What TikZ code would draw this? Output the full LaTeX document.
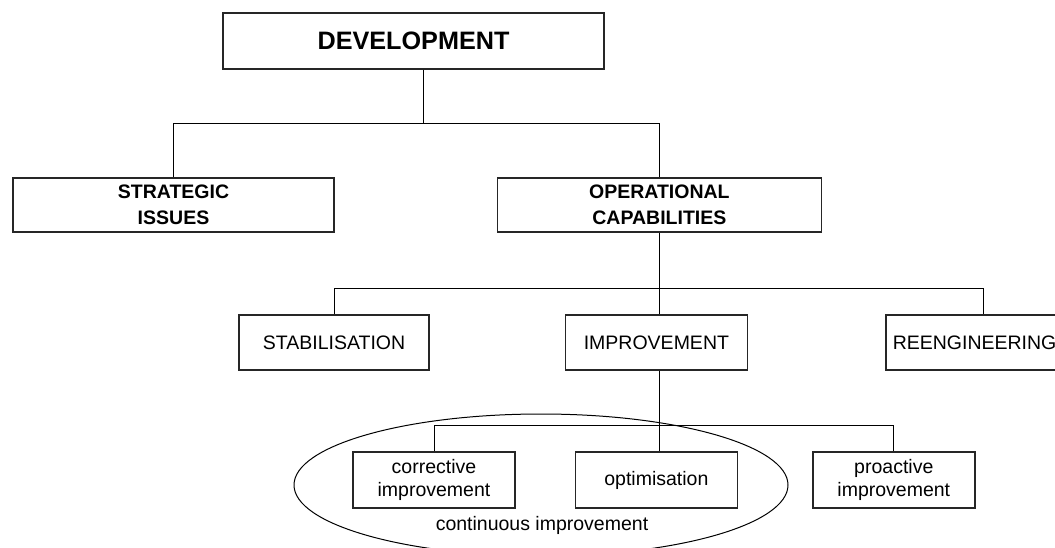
\documentclass[tikz,border=0pt]{standalone}
\usepackage{fontspec}
\setmainfont{Liberation Sans}
\usetikzlibrary{positioning,shapes.geometric}

\begin{document}
\begin{tikzpicture}[x=0.5pt, y=-0.5pt,
    block/.style={rectangle, draw=black!85, line width=0.7pt, inner sep=0pt, align=center, font=\fontsize{9.75}{12.5}\selectfont},
    headblock/.style={block, font=\fontsize{9.75}{13}\selectfont\bfseries, minimum width=160.5pt, minimum height=27pt},
    midblock/.style={block, minimum height=27.5pt},
    smallblock/.style={block, font=\fontsize{9.75}{11.5}\selectfont, minimum width=81pt, minimum height=28pt},
    textlabel/.style={rectangle, inner sep=0pt, font=\fontsize{9.75}{12}\selectfont},
    link/.style={line width=0.5pt}
  ]
  \useasboundingbox (0,0) rectangle (1055,547);
  \clip (0,0) rectangle (1055,547);
  % top level
  \node[block, font=\fontsize{12.6}{15}\selectfont\bfseries, minimum width=190.5pt, minimum height=28pt] (development) at (413.5,41) {DEVELOPMENT};
  \node[headblock] (strategic) at (173.5,205) {STRATEGIC\\ISSUES};
  \node[headblock, minimum width=162pt] (operational) [right=81pt of strategic] {OPERATIONAL\\CAPABILITIES};
  % second level
  \node[midblock, minimum width=95pt] (stabilisation) at (334,342.5) {STABILISATION};
  \node[midblock, minimum width=91pt] (improvement) [right=67.5pt of stabilisation] {IMPROVEMENT};
  \node[midblock, text width=89pt, align=left, inner xsep=3.5pt] (reengineering) [right=68.5pt of improvement] {REENGINEERING};
  % third level
  \node[ellipse, draw, link, minimum width=247pt, minimum height=71pt, inner sep=0pt] (continuous) at (541,485) {};
  \node[smallblock] (corrective) at (434,480) {corrective\\improvement};
  \node[smallblock] (optimisation) [right=29.5pt of corrective] {optimisation};
  \node[smallblock] (proactive) [right=37pt of optimisation] {proactive\\improvement};
  \node[textlabel] (continuouslabel) at (542,525) {continuous improvement};
  \begin{scope}[link]
  \draw ([xshift=5pt]development.south) -- ++(0,54) coordinate (busone);
  \draw (strategic.north) |- (busone) -| (operational.north);
  \draw (operational.south) -- ++(0,56) coordinate (bustwo);
  \draw (stabilisation.north) |- (bustwo) -| ([xshift=1pt]reengineering.north);
  \draw (bustwo) -- (bustwo |- improvement.north);
  \draw (bustwo |- improvement.south) -- ++(0,55) coordinate (busthree) -- (busthree |- optimisation.north);
  \draw (corrective.north) |- (busthree) -| (proactive.north);
  \end{scope}
\end{tikzpicture}
\end{document}
